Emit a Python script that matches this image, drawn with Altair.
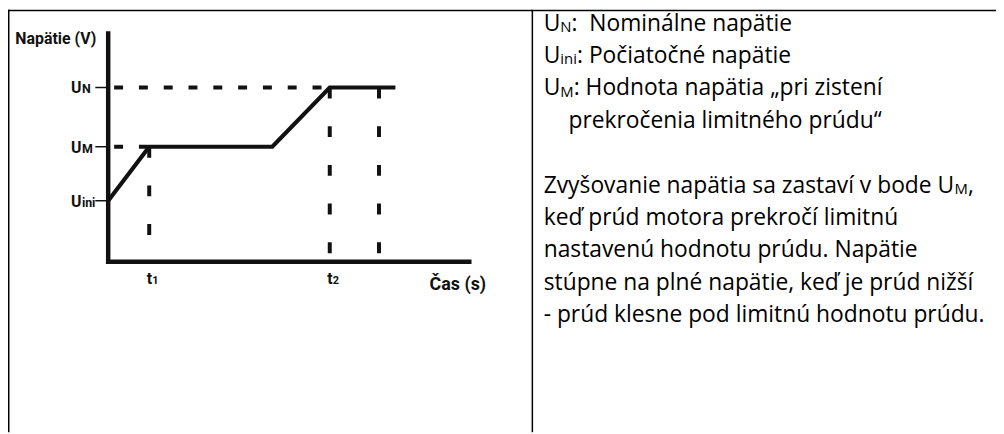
import altair as alt
import pandas as pd

# ---------------- data ----------------
curve_time = [0.0, 1.0, 4.0, 5.4, 7.0]          # s (arbitrary units)
curve_volt = [3.5, 6.6, 6.6, 10.0, 10.0]         # V (arbitrary units)

level_subs = ["N", "M", "ini"]                   # U_N, U_M, U_ini
level_volts = [10.0, 6.6, 3.5]

time_subs = ["1", "2"]                           # t1, t2
time_vals = [1.0, 5.4]
extra_time = 6.6                                 # unlabeled dashed guide

x_end = 8.8
y_end = 13.1

y_title = "Napätie (V)"
x_title = "Čas (s)"

note_rows = [0, 1, 2, 3, 5, 6, 7, 8, 9]
note_heads = ["U", "U", "U", "",
              "Zvyšovanie napätia sa zastaví v bode U",
              "keď prúd motora prekročí limitnú",
              "nastavenú hodnotu prúdu. Napätie",
              "stúpne na plné napätie, keď je prúd nižší",
              "- prúd klesne pod limitnú hodnotu prúdu."]
note_subs = ["N", "ini", "M", "", "M", "", "", "", ""]
note_tails = [":\u00a0 Nominálne napätie", ": Počiatočné napätie",
              ": Hodnota napätia „pri zistení", "prekročenia limitného prúdu“",
              ",", "", "", "", ""]

# ---------------- layout / style ----------------
W, H = 996, 426
DIVIDER = 528.6
ORIGIN_X, ORIGIN_Y = 101, 254
PX_PER_T = 364 / x_end
PX_PER_U = 230 / y_end
INK = "#111111"
FONT_D = "Roboto"
FONT_R = "Open Sans"
FS_R, FS_RSUB = 23, 15
TICK_LEN = 13 / PX_PER_T

xs = alt.Scale(domain=[-ORIGIN_X / PX_PER_T, (W - ORIGIN_X) / PX_PER_T], nice=False, zero=False)
ys = alt.Scale(domain=[-(H - ORIGIN_Y) / PX_PER_U, ORIGIN_Y / PX_PER_U], nice=False, zero=False)


def X(f):
    return alt.X(f, type="quantitative", scale=xs, axis=None)


def Y(f):
    return alt.Y(f, type="quantitative", scale=ys, axis=None)


def border(**enc):
    return alt.Chart(pd.DataFrame({"a": [0]})).mark_rule(
        color="#000000", strokeWidth=1.5).encode(**enc)


layers = [
    border(x=alt.value(0), x2=alt.value(W), y=alt.value(0.75)),
    border(x=alt.value(0.75), y=alt.value(0), y2=alt.value(H)),
    border(x=alt.value(DIVIDER), y=alt.value(0), y2=alt.value(H)),
]

# ---- diagram ----
h_df = pd.DataFrame({"x": [0.0, 0.0], "x2": [time_vals[1], time_vals[0]],
                     "y": [level_volts[0], level_volts[1]]})
layers.append(alt.Chart(h_df).mark_rule(color=INK, strokeWidth=4, strokeDash=[9, 16],
                                        strokeDashOffset=19).encode(
    x=X("x"), x2="x2", y=Y("y")))

v_df = pd.DataFrame({"x": [time_vals[0], time_vals[1], extra_time],
                     "y": [level_volts[1], level_volts[0], level_volts[0]],
                     "y2": [0.0, 0.0, 0.0]})
layers.append(alt.Chart(v_df).mark_rule(color=INK, strokeWidth=4, strokeDash=[11, 28]).encode(
    x=X("x"), y=Y("y"), y2="y2"))

axes_df = pd.DataFrame({"x": [0.0, 0.0], "x2": [0.0, x_end],
                        "y": [0.0, 0.0], "y2": [y_end, 0.0]})
layers.append(alt.Chart(axes_df).mark_rule(color=INK, strokeWidth=4.5, strokeCap="square").encode(
    x=X("x"), x2="x2", y=Y("y"), y2="y2"))

ticks_df = pd.DataFrame({"v": level_volts, "x": [0.0] * 3, "x2": [-TICK_LEN] * 3})
layers.append(alt.Chart(ticks_df).mark_rule(color=INK, strokeWidth=1.5).encode(
    x=X("x"), x2="x2", y=Y("v")))

layers.append(alt.Chart(pd.DataFrame({"t": curve_time, "u": curve_volt})).mark_line(
    color=INK, strokeWidth=4.2).encode(x=X("t"), y=Y("u")))

lvl_df = pd.DataFrame({"v": level_volts, "s": level_subs, "m": ["U"] * 3, "x": [0.0] * 3})
layers.append(alt.Chart(lvl_df).mark_text(font=FONT_D, fontWeight="bold", fontSize=16, color=INK,
                                          align="right", baseline="alphabetic", dx=-27, dy=6).encode(
    x=X("x"), y=Y("v"), text="m:N"))
layers.append(alt.Chart(lvl_df).mark_text(font=FONT_D, fontWeight="bold", fontSize=12.5, color=INK,
                                          align="left", baseline="alphabetic", dx=-26.5, dy=6).encode(
    x=X("x"), y=Y("v"), text="s:N"))

t_df = pd.DataFrame({"t": time_vals, "s": time_subs, "m": ["t"] * 2, "y": [0.0] * 2})
layers.append(alt.Chart(t_df).mark_text(font=FONT_D, fontWeight="bold", fontSize=16, color=INK,
                                        align="right", baseline="alphabetic", dx=3, dy=23).encode(
    x=X("t"), y=Y("y"), text="m:N"))
layers.append(alt.Chart(t_df).mark_text(font=FONT_D, fontWeight="bold", fontSize=11, color=INK,
                                        align="left", baseline="alphabetic", dx=3, dy=23).encode(
    x=X("t"), y=Y("y"), text="s:N"))

layers.append(alt.Chart(pd.DataFrame({"x": [0.0], "y": [y_end], "txt": [y_title]})).mark_text(
    font=FONT_D, fontWeight="bold", fontSize=16, color=INK,
    align="right", baseline="alphabetic", dx=-12, dy=11).encode(
    x=X("x"), y=Y("y"), text="txt:N"))
layers.append(alt.Chart(pd.DataFrame({"x": [x_end], "y": [0.0], "txt": [x_title]})).mark_text(
    font=FONT_D, fontWeight="bold", fontSize=18, color=INK,
    align="left", baseline="alphabetic", dx=-40, dy=29).encode(
    x=X("x"), y=Y("y"), text="txt:N"))

# ---- explanation text (right cell) ----
ROW0, ROW_STEP = 21, 32.67
rows_scale = alt.Scale(domain=[-ROW0 / ROW_STEP, (H - ROW0) / ROW_STEP], reverse=True,
                       nice=False, zero=False)
X0, INDENT = 540, 565
HEAD_W = {"U": 16.8, "Zvyšovanie napätia sa zastaví v bode U": 414.2}
SUB_W = {"N": 11.3, "ini": 16.8, "M": 13.45}


def seg(row, txt, px, size):
    return alt.Chart(pd.DataFrame({"row": [row], "txt": [txt]})).mark_text(
        font=FONT_R, fontSize=size, color="#000000", align="left", baseline="alphabetic",
        dy=(1.5 if size < FS_R else 0)).encode(
        x=alt.value(px),
        y=alt.Y("row:Q", scale=rows_scale, axis=None),
        text="txt:N")


for r, hd, sb, tl in zip(note_rows, note_heads, note_subs, note_tails):
    if hd:
        layers.append(seg(r, hd, X0, FS_R))
        px = X0 + HEAD_W.get(hd, 0)
        if sb:
            layers.append(seg(r, sb, px, FS_RSUB))
            px += SUB_W[sb]
        if tl:
            layers.append(seg(r, tl, px, FS_R))
    elif tl:
        layers.append(seg(r, tl, INDENT, FS_R))

chart = alt.layer(*layers).resolve_scale(x="independent", y="independent").properties(
    width=W, height=H, padding=0, autosize=alt.AutoSizeParams(type="none")
).configure_view(stroke=None)

chart.save("out.html", embed_options={"renderer": "svg", "actions": False})
